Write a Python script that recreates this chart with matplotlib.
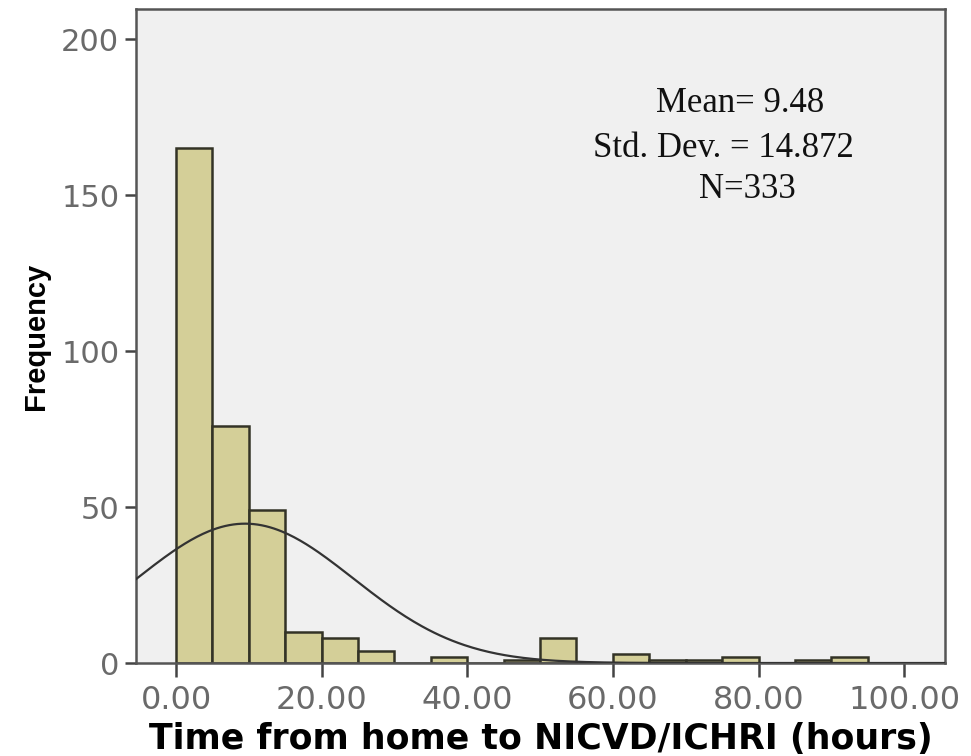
import numpy as np
import matplotlib
matplotlib.use("Agg")
import matplotlib.pyplot as plt

# histogram data (bin width 5 hours)
bin_edges = [0, 5, 10, 15, 20, 25, 30, 35, 40, 45, 50, 55, 60, 65, 70, 75, 80, 85, 90, 95]
counts = [165, 76, 49, 10, 8, 4, 0, 2, 0, 1, 8, 0, 3, 1, 1, 2, 0, 1, 2]

mean_val = 9.48
std_val = 14.872
n_val = 333
bin_width = 5

x_ticks = [0, 20, 40, 60, 80, 100]
y_ticks = [0, 50, 100, 150, 200]

fig = plt.figure(figsize=(9.71, 7.56), dpi=100)
ax = fig.add_axes([0.1401, 0.123, 0.833, 0.865])
ax.set_facecolor("#f0f0f0")

lefts = np.array(bin_edges[:-1])
ax.bar(lefts, counts, width=bin_width, align="edge",
       color="#d4cf98", edgecolor="#333326", linewidth=1.8, zorder=2)

# fitted normal curve from the stated mean / std / N
xs = np.linspace(-5.5, 105.6, 400)
ys = n_val * bin_width / (std_val * np.sqrt(2 * np.pi)) * np.exp(-0.5 * ((xs - mean_val) / std_val) ** 2)
ax.plot(xs, ys, color="#333333", linewidth=1.6, zorder=3)

ax.set_xlim(-5.5, 105.6)
ax.set_ylim(0, 209.6)

ax.set_xticks(x_ticks)
ax.set_xticklabels(["%.2f" % t for t in x_ticks])
ax.set_yticks(y_ticks)

for s in ax.spines.values():
    s.set_color("#555555")
    s.set_linewidth(1.8)

ax.tick_params(axis="x", length=10, width=1.8, color="#444444", pad=6,
               labelsize=23, labelcolor="#6a6a6a")
ax.tick_params(axis="y", length=8, width=1.8, color="#444444", pad=4,
               labelsize=22, labelcolor="#6a6a6a")
for lab in ax.get_xticklabels() + ax.get_yticklabels():
    lab.set_family("DejaVu Sans")

ax.set_ylabel("Frequency", fontsize=21, fontweight="bold",
              family="Liberation Sans", labelpad=8)
ax.set_xlabel("Time from home to NICVD/ICHRI (hours)", fontsize=25,
              fontweight="bold", family="DejaVu Sans", labelpad=4)

txt_kw = dict(transform=fig.transFigure, ha="center", va="baseline",
              fontsize=25, family="Liberation Serif", color="#111111")
fig.text(740 / 971, 1 - 112 / 756, "Mean= %.2f" % mean_val, **txt_kw)
fig.text(723 / 971, 1 - 157 / 756, "Std. Dev. = %.3f" % std_val, **txt_kw)
fig.text(747 / 971, 1 - 198 / 756, "N=%d" % n_val, **txt_kw)

fig.savefig("out.png", dpi=100, facecolor="white")
